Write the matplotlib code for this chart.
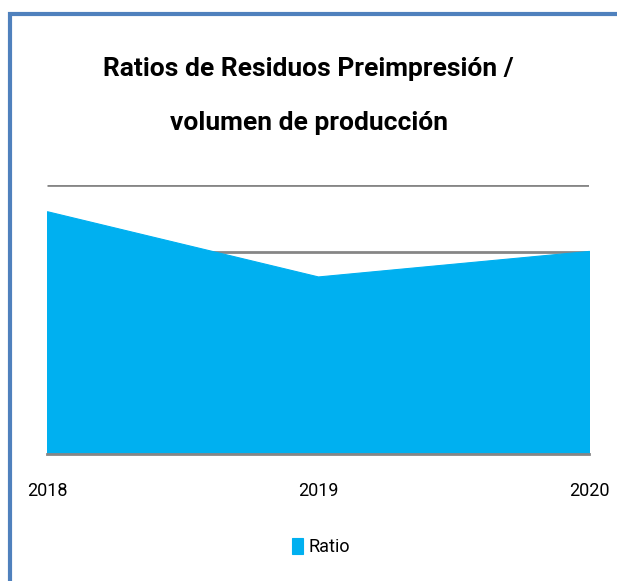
import matplotlib.pyplot as plt
from matplotlib.patches import Rectangle

years = ['2018', '2019', '2020']
ratio = [3.61, 2.64, 3.02]

plt.rcParams['font.family'] = ['Roboto', 'DejaVu Sans']

fig = plt.figure(figsize=(6.17, 5.81), dpi=100)
ax = fig.add_axes([0.0762, 0.2186, 0.8784, 0.463])

x = list(range(len(years)))
ax.fill_between(x, ratio, 0, facecolor='#00B0F0', edgecolor='#00B0F0', lw=0.8,
                zorder=2, label='Ratio')
ax.set_xlim(0, len(years) - 1)
ax.set_ylim(0, 4)
ax.set_yticks([0, 1, 2, 3, 4])
ax.yaxis.grid(True, color='#868686', lw=2, zorder=0, solid_capstyle='butt')
ax.set_axisbelow(True)
ax.set_yticklabels([])
ax.tick_params(left=False, bottom=False, labelsize=13, pad=17)
ax.set_xticks(x)
ax.set_xticklabels(years)
for s in ['left', 'right', 'top']:
    ax.spines[s].set_visible(False)
ax.spines['bottom'].set_color('#868686')
ax.spines['bottom'].set_linewidth(2)
ax.spines['bottom'].set_zorder(3)

fig.text(0.5, 0.835, 'Ratios de Residuos Preimpresión /\nvolumen de producción',
         ha='center', va='center', fontsize=19, fontweight='bold', linespacing=2.6)

leg = fig.legend(loc='center', bbox_to_anchor=(0.52, 0.058), frameon=False,
                 fontsize=13, handlelength=0.6, handleheight=1.0, handletextpad=0.3)

fig.patches.append(Rectangle((10 / 617, -0.1), 1.2, 1 - 14 / 581 + 0.1,
                             transform=fig.transFigure, fill=False,
                             edgecolor='#4F81BD', lw=3))

fig.savefig('out.png', dpi=100)
